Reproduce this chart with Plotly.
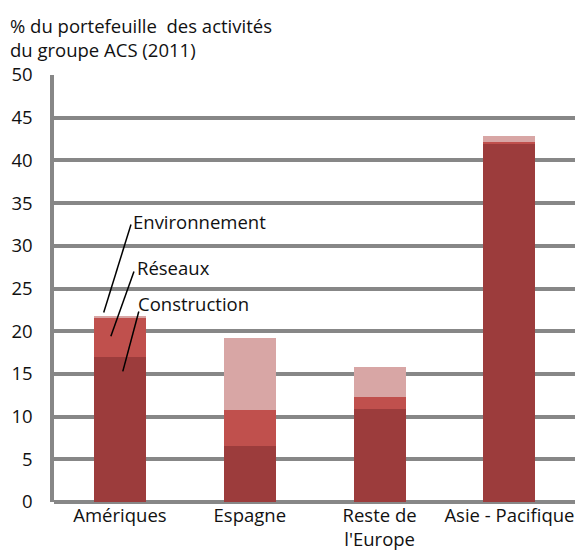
import plotly.graph_objects as go

categories = ["Amériques", "Espagne", "Reste de<br>l'Europe", "Asie - Pacifique"]
construction = [17.0, 6.6, 10.9, 42.0]
reseaux = [4.5, 4.2, 1.4, 0.2]
environnement = [0.3, 8.4, 3.5, 0.6]
series_names = ["Construction", "Réseaux", "Environnement"]
colors = ["#9C3C3C", "#C0504D", "#D8A6A5"]
y_ticks = list(range(0, 55, 5))

FONT = "Open Sans"
FS = 18.5
L, R, T, B = 54, 10, 75, 48
PH = 550 - T - B


def py(p):
    # pixel row -> paper y
    return (550 - B - p) / PH


fig = go.Figure()
for name, vals, col in zip(series_names, [construction, reseaux, environnement], colors):
    fig.add_trace(go.Bar(x=list(range(len(categories))), y=vals, name=name,
                         marker=dict(color=col, line=dict(width=0)), showlegend=False))

fig.update_layout(
    width=585, height=550, barmode="stack", bargap=0.6,
    margin=dict(l=L, r=R, t=T, b=B),
    plot_bgcolor="white", paper_bgcolor="white",
    font=dict(family=FONT, size=FS, color="#111"),
)
fig.update_xaxes(tickmode="array", tickvals=list(range(len(categories))), ticktext=categories,
                 range=[-0.508, 3.505], showgrid=False, showline=False, zeroline=False,
                 tickfont=dict(size=FS), ticks="", automargin=False, ticklabelstandoff=0)
fig.update_yaxes(range=[0, 50], tickvals=y_ticks, showgrid=True, gridcolor="#878787", gridwidth=3.5,
                 zeroline=True, zerolinecolor="#878787", zerolinewidth=3.5,
                 showline=True, linecolor="#878787", linewidth=3.5, automargin=False,
                 ticks="", ticklabelstandoff=14, tickfont=dict(size=FS))

# leader lines
lines = [((0.085, 32.5), (-0.125, 22.2)), ((0.108, 27.0), (-0.07, 19.4)), ((0.145, 22.3), (0.022, 15.3))]
for (x0, y0), (x1, y1) in lines:
    fig.add_shape(type="line", x0=x0, y0=y0, x1=x1, y1=y1, xref="x", yref="y",
                  line=dict(color="black", width=1.5))
labels = [("Environnement", 0.085, 32.9), ("Réseaux", 0.115, 27.5), ("Construction", 0.122, 23.2)]
for t, x, y in labels:
    fig.add_annotation(text=t, x=x, y=y, xref="x", yref="y", xanchor="left", yanchor="middle",
                       showarrow=False, font=dict(size=FS))

fig.add_annotation(text="% du portefeuille  des activités<br>du groupe ACS (2011)",
                   xref="paper", yref="paper", align="left",
                   x=-0.088, y=py(37.5), xanchor="left", yanchor="middle", showarrow=False,
                   font=dict(size=FS))

fig.write_html("out.html", config={"displayModeBar": False},
               post_script="document.body.style.margin='0px';")
